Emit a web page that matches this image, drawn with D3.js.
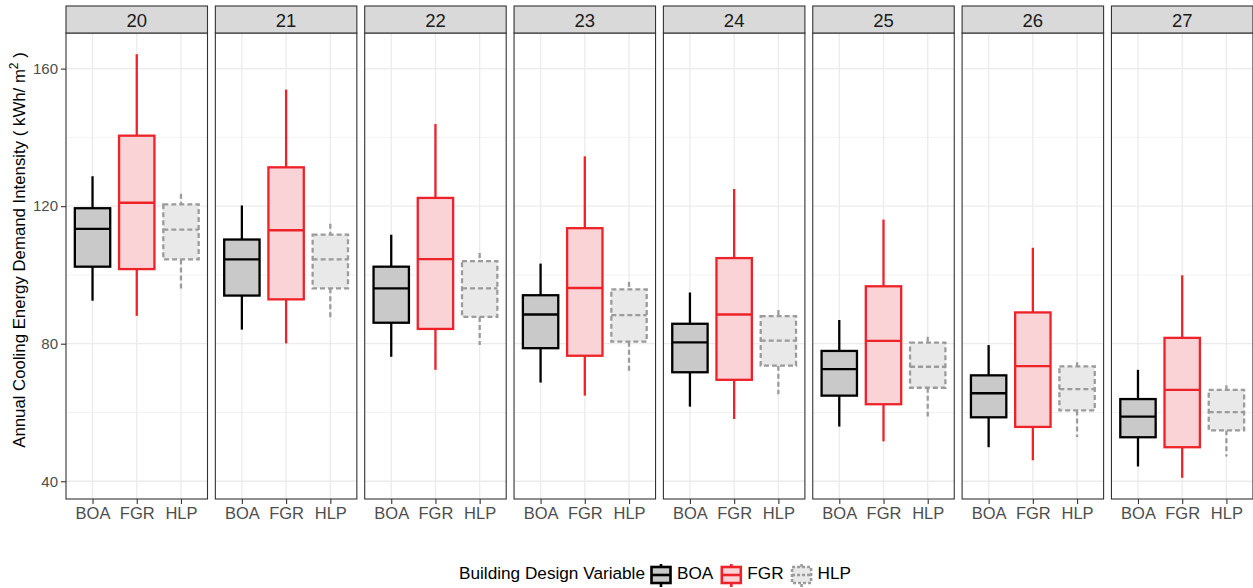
<!DOCTYPE html>
<html>
<head>
<meta charset="utf-8">
<script src="https://cdn.jsdelivr.net/npm/d3@7"></script>
<style>
  body { margin: 0; background: #fff; }
  text { font-family: "Liberation Sans", Arial, sans-serif; }
</style>
</head>
<body>
<div id="chart"></div>
<script>
// facets = cooling set point, each row = [lower whisker, Q1, median, Q3, upper whisker]
var facets = ["20", "21", "22", "23", "24", "25", "26", "27"];
var variables = ["BOA", "FGR", "HLP"];

var boaStats = [
  [92.5, 102.4, 113.4, 119.4, 128.7],
  [84.1, 94.0, 104.5, 110.3, 120.2],
  [76.2, 86.1, 96.1, 102.4, 111.7],
  [68.7, 78.7, 88.5, 94.1, 103.3],
  [61.7, 71.7, 80.4, 85.8, 94.9],
  [55.9, 64.9, 72.6, 77.9, 86.9],
  [49.9, 58.6, 65.6, 70.8, 79.6],
  [44.3, 52.8, 58.8, 63.9, 72.4]
];
var fgrStats = [
  [88.1, 101.7, 121.0, 140.5, 164.2],
  [80.1, 92.9, 113.0, 131.3, 153.9],
  [72.4, 84.3, 104.6, 122.4, 143.9],
  [64.9, 76.5, 96.2, 113.6, 134.5],
  [58.1, 69.5, 88.5, 104.9, 125.0],
  [51.6, 62.4, 80.8, 96.7, 116.1],
  [46.1, 55.8, 73.5, 89.1, 107.9],
  [41.0, 49.9, 66.6, 81.7, 99.9]
];
var hlpStats = [
  [95.4, 104.5, 113.2, 120.5, 123.6],
  [87.4, 96.1, 104.5, 111.7, 114.9],
  [79.6, 87.8, 96.1, 104.0, 106.4],
  [71.9, 80.6, 88.3, 95.8, 98.0],
  [65.3, 73.6, 80.9, 88.0, 89.8],
  [58.8, 67.2, 73.3, 80.3, 82.0],
  [52.9, 60.6, 66.8, 73.4, 74.6],
  [47.2, 54.8, 60.1, 66.6, 67.9]
];
var yTicks = [40, 80, 120, 160];
var yMinor = [60, 100, 140];

var stats = {BOA: boaStats, FGR: fgrStats, HLP: hlpStats};
var styles = {
  BOA: {stroke: "#000000", fill: "#c9c9c9", dash: null},
  FGR: {stroke: "#ee2229", fill: "#f9d3d5", dash: null},
  HLP: {stroke: "#9b9b9b", fill: "#e9e9e9", dash: "5,3"}
};

var W = 1253, H = 588;
var panelLeft = 66, panelW = 141.5, panelGap = 7.85;
var stripTop = 6, panelTop = 33, panelBottom = 499;

var svg = d3.select("#chart").append("svg")
  .attr("width", W).attr("height", H);

// y range like ggplot: data range expanded by 5%
var all = d3.merge([boaStats, fgrStats, hlpStats].map(function(a){ return d3.merge(a); }));
var ext = d3.extent(all), pad = (ext[1] - ext[0]) * 0.05;
var y = d3.scaleLinear().domain([ext[0] - pad, ext[1] + pad]).range([panelBottom, panelTop]);

var x = d3.scalePoint().domain(variables).range([0, panelW]).padding(0.6);
var boxW = x.step() * 0.8;

facets.forEach(function(f, i){
  var px = panelLeft + i * (panelW + panelGap);
  var g = svg.append("g").attr("transform", "translate(" + px + ",0)");

  // grid
  g.selectAll(".minor").data(yMinor).enter().append("line")
    .attr("x1", 0).attr("x2", panelW)
    .attr("y1", function(d){ return y(d); }).attr("y2", function(d){ return y(d); })
    .attr("stroke", "#f2f2f2").attr("stroke-width", 1);
  g.selectAll(".major").data(yTicks).enter().append("line")
    .attr("x1", 0).attr("x2", panelW)
    .attr("y1", function(d){ return y(d); }).attr("y2", function(d){ return y(d); })
    .attr("stroke", "#ebebeb").attr("stroke-width", 1.3);
  g.selectAll(".vgrid").data(variables).enter().append("line")
    .attr("x1", function(d){ return x(d); }).attr("x2", function(d){ return x(d); })
    .attr("y1", panelTop).attr("y2", panelBottom)
    .attr("stroke", "#ebebeb").attr("stroke-width", 1.3);

  // boxes
  variables.forEach(function(v){
    var s = stats[v][i], st = styles[v], cx = x(v);
    var b = g.append("g")
      .attr("stroke", st.stroke).attr("stroke-width", 2.3)
      .attr("stroke-dasharray", st.dash);
    b.append("line").attr("x1", cx).attr("x2", cx).attr("y1", y(s[4])).attr("y2", y(s[3]));
    b.append("line").attr("x1", cx).attr("x2", cx).attr("y1", y(s[1])).attr("y2", y(s[0]));
    b.append("rect").attr("x", cx - boxW / 2).attr("width", boxW)
      .attr("y", y(s[3])).attr("height", y(s[1]) - y(s[3]))
      .attr("fill", st.fill);
    b.append("line").attr("x1", cx - boxW / 2).attr("x2", cx + boxW / 2)
      .attr("y1", y(s[2])).attr("y2", y(s[2]));
  });

  // border
  g.append("rect").attr("x", 0).attr("y", panelTop).attr("width", panelW)
    .attr("height", panelBottom - panelTop)
    .attr("fill", "none").attr("stroke", "#333333").attr("stroke-width", 1.1);

  // strip
  g.append("rect").attr("x", 0).attr("y", stripTop).attr("width", panelW)
    .attr("height", panelTop - stripTop)
    .attr("fill", "#d9d9d9").attr("stroke", "#333333").attr("stroke-width", 1.1);
  g.append("text").attr("x", panelW / 2).attr("y", 27.3)
    .attr("text-anchor", "middle").attr("font-size", 18.5).attr("fill", "#1a1a1a")
    .text(f);

  // x axis
  var xa = g.append("g").attr("transform", "translate(0," + panelBottom + ")")
    .call(d3.axisBottom(x).tickSize(5).tickPadding(3));
  xa.select(".domain").remove();
  xa.selectAll("line").attr("stroke", "#333333").attr("stroke-width", 1.1);
  xa.selectAll("text").attr("font-size", 16.5).attr("fill", "#4d4d4d")
    .attr("font-family", "Liberation Sans, Arial, sans-serif");
});

// y axis
var ya = svg.append("g").attr("transform", "translate(" + panelLeft + ",0)")
  .call(d3.axisLeft(y).tickValues(yTicks).tickSize(5).tickPadding(3));
ya.select(".domain").remove();
ya.selectAll("line").attr("stroke", "#333333").attr("stroke-width", 1.1);
ya.selectAll("text").attr("font-size", 15).attr("fill", "#4d4d4d")
  .attr("font-family", "Liberation Sans, Arial, sans-serif");

// y title
var yt = svg.append("text")
  .attr("transform", "translate(25,250) rotate(-90)")
  .attr("text-anchor", "middle").attr("font-size", 16.8).attr("fill", "#000");
yt.append("tspan").text("Annual Cooling Energy Demand Intensity ( kWh/ m");
yt.append("tspan").attr("dy", -7).attr("font-size", 12).text("2");
yt.append("tspan").attr("dy", 7).text(" )");

// legend
var lg = svg.append("g");
var ly = 573;
var title = lg.append("text").attr("x", 459).attr("y", ly + 6)
  .attr("font-size", 17.2).attr("fill", "#000").text("Building Design Variable");
var cursor = 459 + title.node().getComputedTextLength() + 5;
variables.forEach(function(v){
  var st = styles[v], kw = 22, cx = cursor + kw / 2;
  var k = lg.append("g").attr("stroke", st.stroke).attr("stroke-width", 2.6)
    .attr("stroke-dasharray", st.dash ? "3,2" : null);
  k.append("line").attr("x1", cx).attr("x2", cx).attr("y1", ly - 9).attr("y2", ly + 14);
  k.append("rect").attr("x", cursor + 1.5).attr("width", kw - 3)
    .attr("y", ly - 6).attr("height", 16).attr("fill", st.fill);
  k.append("line").attr("x1", cursor + 1.5).attr("x2", cursor + kw - 1.5)
    .attr("y1", ly + 2).attr("y2", ly + 2);
  var t = lg.append("text").attr("x", cursor + kw + 5).attr("y", ly + 6)
    .attr("font-size", 17.2).attr("fill", "#000").text(v);
  cursor = cursor + kw + 5 + t.node().getComputedTextLength() + 7;
});
</script>
</body>
</html>
